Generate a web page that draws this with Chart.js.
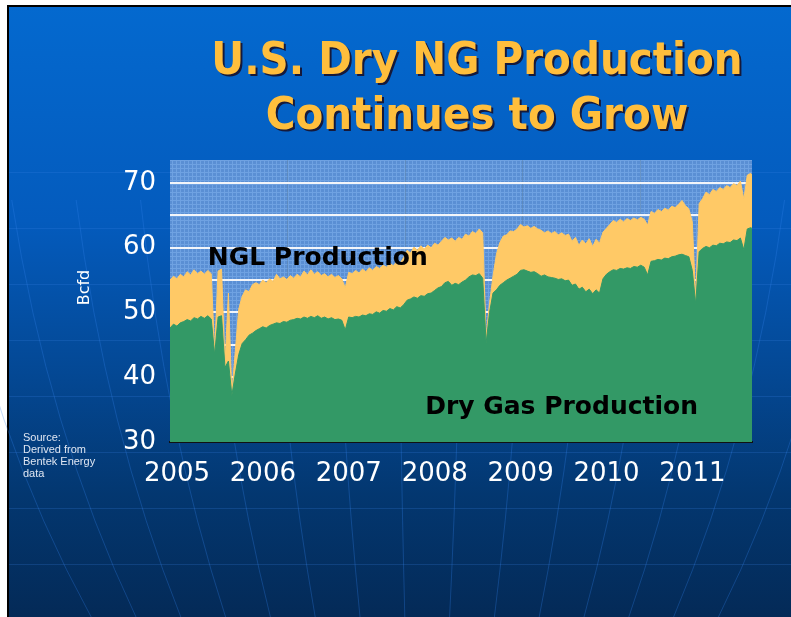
<!DOCTYPE html>
<html>
<head>
<meta charset="utf-8">
<script src="https://cdn.jsdelivr.net/npm/chart.js@4.4.1/dist/chart.umd.min.js"></script>
<style>
  html, body { margin: 0; padding: 0; background: #fff; }
  #wrap { position: relative; width: 791px; height: 617px; overflow: hidden; }
  #chart { position: absolute; left: 0; top: 0; }
  .title {
    position: absolute; left: 177px; top: 31px; width: 600px; text-align: center;
    font-family: "DejaVu Sans Condensed", "DejaVu Sans", sans-serif; font-weight: bold;
    font-size: 45px; line-height: 55px; color: #ffbe3c; text-shadow: 2px 2px 0 #16193a;
  }
  .source {
    position: absolute; left: 23px; top: 431px;
    font-family: "Liberation Sans", Arial, sans-serif; font-size: 11px; line-height: 12px; color: #dfe6f2;
  }
</style>
</head>
<body>
<div id="wrap">
  <canvas id="chart" width="791" height="617"></canvas>
  <div class="title">U.S. Dry NG Production<br>Continues to Grow</div>
  <div class="source">Source:<br>Derived from<br>Bentek Energy<br>data</div>
</div>
<script>
// samples every 0.04 yr starting Jan 2005, Bcf/d
const dryGas = [
  47.6, 48.2, 47.9, 48.4, 48.6, 48.9, 48.7, 49.2, 49.0, 49.4,
  49.1, 49.5, 49.0, 43.5, 49.3, 49.5, 41.5, 42.5, 37.2, 40.5,
  43.5, 45.2, 45.8, 46.5, 46.8, 47.2, 47.5, 47.8, 47.6, 48.0,
  48.2, 48.4, 48.3, 48.6, 48.5, 48.8, 48.9, 49.1, 49.0, 49.3,
  49.1, 49.4, 49.2, 49.5, 49.1, 49.3, 49.0, 49.2, 48.9, 49.0,
  48.8, 47.3, 49.3, 49.2, 49.4, 49.3, 49.6, 49.5, 49.8, 49.7,
  50.1, 49.9, 50.3, 50.2, 50.6, 50.4, 50.9, 50.7, 51.2, 51.9,
  52.1, 52.4, 52.2, 52.6, 52.5, 52.9, 53.0, 53.4, 53.8, 54.0,
  54.6, 54.8, 54.2, 54.5, 54.3, 54.7, 55.0, 55.5, 55.8, 55.7,
  56.0, 55.3, 45.3, 50.0, 53.0, 53.5, 54.2, 54.6, 55.0, 55.3,
  55.6, 55.9, 56.5, 56.6, 56.4, 56.2, 56.3, 56.0, 55.6, 55.8,
  55.5, 55.4, 55.3, 55.1, 55.2, 54.9, 55.0, 54.2, 54.4, 53.6,
  53.9, 53.2, 53.6, 52.9, 53.5, 53.0, 55.2, 55.9, 56.3, 56.6,
  56.5, 56.8, 56.7, 56.9, 56.8, 57.1, 57.0, 57.3, 57.0, 55.8,
  57.9, 58.0, 58.2, 58.1, 58.4, 58.3, 58.6, 58.7, 58.9, 59.0,
  58.8, 58.6, 56.5, 51.3, 59.4, 59.9, 60.2, 60.0, 60.4, 60.3,
  60.7, 60.6, 60.9, 60.8, 61.2, 61.1, 61.5, 59.7, 62.9, 63.1,
  62.8
];
const totalGas = [
  55.0, 55.6, 55.2, 55.9, 55.5, 56.3, 55.8, 56.6, 56.0, 56.4,
  55.9, 56.5, 56.0, 44.0, 56.4, 56.7, 42.0, 53.0, 37.5, 44.0,
  50.5, 52.5, 53.5, 53.2, 54.3, 54.6, 54.3, 55.0, 54.6, 55.2,
  54.8, 55.9, 55.2, 55.5, 55.1, 55.7, 55.3, 55.9, 55.5, 56.4,
  55.8, 56.6, 55.9, 56.3, 55.7, 56.0, 55.5, 55.9, 55.4, 55.7,
  55.2, 53.8, 56.2, 56.0, 56.5, 56.1, 56.7, 56.3, 56.9, 56.5,
  57.1, 56.8, 57.3, 57.0, 57.6, 57.2, 57.9, 57.6, 58.5, 59.6,
  59.2, 60.1, 59.6, 60.3, 59.8, 60.4, 60.0, 60.7, 60.4, 61.0,
  61.6, 61.2, 61.5, 61.0, 61.6, 61.3, 62.1, 61.8, 62.5, 62.2,
  62.9, 62.3, 46.2, 51.5, 55.6, 59.0, 60.8, 61.8, 62.0, 62.6,
  62.5, 62.9, 63.6, 63.2, 63.4, 63.0, 63.3, 62.9, 62.7, 62.3,
  62.6, 62.2, 62.5, 62.0, 62.3, 61.9, 62.1, 61.0, 61.6, 60.4,
  61.2, 60.6, 61.4, 60.2, 61.3, 60.7, 62.4, 63.0, 63.6, 64.2,
  63.9, 64.4, 64.0, 64.5, 64.2, 64.6, 64.3, 64.7, 64.4, 63.5,
  65.6, 65.3, 65.9, 65.6, 66.1, 65.8, 66.4, 66.2, 66.7, 67.3,
  66.5, 66.0, 64.0, 52.0, 66.8, 67.6, 68.6, 68.2, 69.0, 68.7,
  69.3, 69.0, 69.6, 69.3, 69.9, 69.6, 70.3, 67.5, 71.2, 71.5,
  70.6
];
const sampleStart = 2005;
const sampleStep = 0.04;
const yearLabels = [2005, 2006, 2007, 2008, 2009, 2010, 2011];
const gridDays = [500, 1000, 1500, 2000];
const yTickValues = [30, 35, 40, 45, 50, 55, 60, 65, 70];
const areaLabels = ['NGL Production', 'Dry Gas Production'];
const areaLabelX = [2005.44, 2007.97];
const areaLabelY = [58.3, 35.3];

function toPoints(arr) {
  return arr.map((v, i) => ({ x: sampleStart + i * sampleStep, y: v }));
}

function dotPattern(ctx) {
  const c = document.createElement('canvas');
  c.width = 4; c.height = 4;
  const p = c.getContext('2d');
  p.fillStyle = '#5a8fd4';
  p.fillRect(0, 0, 4, 4);
  p.fillStyle = '#6fa2e2';
  p.fillRect(0, 0, 4, 1);
  p.fillRect(0, 0, 1, 4);
  return ctx.createPattern(c, 'repeat');
}

const slideDecor = {
  id: 'slideDecor',
  beforeDraw(chart) {
    const { ctx, chartArea: a } = chart;
    const w = chart.width, h = chart.height;
    ctx.save();
    ctx.fillStyle = '#fff';
    ctx.fillRect(0, 0, w, h);
    const g = ctx.createLinearGradient(0, 7, 0, h);
    g.addColorStop(0, '#0469cf');
    g.addColorStop(0.35, '#045bbd');
    g.addColorStop(0.6, '#044894');
    g.addColorStop(0.8, '#033770');
    g.addColorStop(1, '#042a57');
    ctx.fillStyle = g;
    ctx.fillRect(9, 7, w - 9, h - 7);
    ctx.fillStyle = '#000';
    ctx.fillRect(7, 5, 2, h - 5);
    ctx.fillRect(7, 5, w - 7, 2);

    // faint globe lines
    ctx.strokeStyle = 'rgba(60,130,230,0.22)';
    ctx.lineWidth = 1;
    for (let y = 172; y < h; y += 56) {
      ctx.beginPath();
      ctx.moveTo(9, y + 0.5);
      ctx.lineTo(w, y + 0.5);
      ctx.stroke();
    }
    ctx.strokeStyle = 'rgba(50,130,235,0.3)';
    for (let k = -1; k < 14; k++) {
      const x0 = 65 + k * 56;
      ctx.beginPath();
      ctx.moveTo(x0 + (x0 - 420) * 0.15, 200);
      ctx.quadraticCurveTo(x0 + (x0 - 420) * 0.05, 430, x0 + (420 - x0) * 0.2, h);
      ctx.stroke();
    }

    ctx.fillStyle = dotPattern(ctx);
    ctx.fillRect(a.left, a.top, a.right - a.left, a.bottom - a.top);
    ctx.restore();
  },
  afterDraw(chart) {
    const { ctx, scales: { x, y }, chartArea: a } = chart;
    ctx.save();
    ctx.fillStyle = '#000';
    ctx.font = 'bold 25px "DejaVu Sans"';
    ctx.textBaseline = 'middle';
    ctx.textAlign = 'left';
    areaLabels.forEach((t, i) => {
      ctx.fillText(t, x.getPixelForValue(areaLabelX[i]), y.getPixelForValue(areaLabelY[i]));
    });
    ctx.translate(a.left - 85, y.getPixelForValue(53.85));
    ctx.rotate(-Math.PI / 2);
    ctx.fillStyle = '#fff';
    ctx.font = '16px "DejaVu Sans"';
    ctx.textAlign = 'center';
    ctx.fillText('Bcfd', 0, 0);
    ctx.restore();
  }
};

new Chart(document.getElementById('chart'), {
  type: 'line',
  data: {
    datasets: [
      {
        label: 'Dry Gas Production',
        data: toPoints(dryGas),
        fill: 'start',
        backgroundColor: '#339966',
        borderColor: '#339966',
        borderWidth: 1,
        pointRadius: 0,
        tension: 0
      },
      {
        label: 'NGL Production',
        data: toPoints(totalGas),
        fill: 'start',
        backgroundColor: '#ffc966',
        borderColor: '#ffc966',
        borderWidth: 1,
        pointRadius: 0,
        tension: 0
      }
    ]
  },
  options: {
    responsive: false,
    animation: false,
    devicePixelRatio: 1,
    layout: { padding: { left: 0, top: 160, right: 39, bottom: 0 } },
    plugins: {
      legend: { display: false },
      tooltip: { enabled: false },
      title: { display: false }
    },
    scales: {
      x: {
        type: 'linear',
        min: 2005,
        max: 2011.775,
        z: 1,
        afterBuildTicks: (s) => {
          const vals = yearLabels.concat(gridDays.map(d => sampleStart + d / 365.25));
          vals.sort((p, q) => p - q);
          s.ticks = vals.map(v => ({ value: v }));
        },
        afterFit: (s) => { s.height = 175; },
        grid: {
          color: (c) => (c.tick && yearLabels.includes(c.tick.value)) ? 'rgba(0,0,0,0)' : 'rgba(95,130,165,0.45)',
          lineWidth: 1,
          drawTicks: false
        },
        border: { color: '#111', width: 2 },
        ticks: {
          callback: (v) => yearLabels.includes(v) ? String(v) : '',
          color: '#fff',
          font: { family: 'DejaVu Sans', size: 26 },
          padding: 17,
          labelOffset: 7,
          autoSkip: false,
          maxRotation: 0
        }
      },
      y: {
        min: 30,
        max: 73.55,
        afterBuildTicks: (s) => { s.ticks = yTickValues.map(v => ({ value: v })); },
        afterFit: (s) => { s.width = 170; },
        grid: { color: '#f2f5fa', lineWidth: 2, drawTicks: false },
        border: { display: false },
        ticks: {
          callback: (v) => v % 10 === 0 ? String(v) : '',
          color: '#fff',
          font: { family: 'DejaVu Sans', size: 26 },
          padding: 14
        }
      }
    }
  },
  plugins: [slideDecor]
});
</script>
</body>
</html>
